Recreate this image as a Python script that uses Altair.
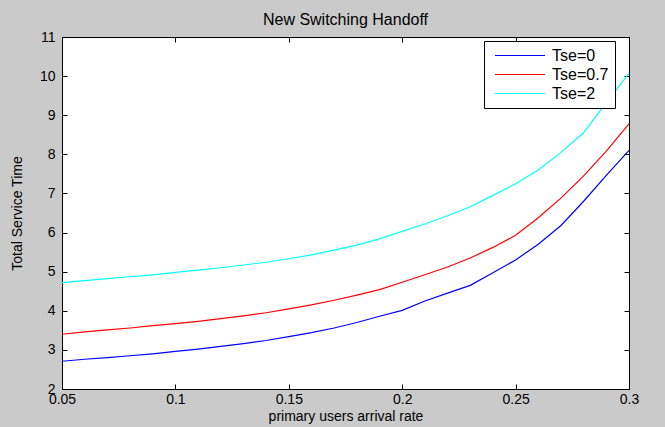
import altair as alt
import pandas as pd

# ---- data ----
arrival_rate = [0.05, 0.06, 0.07, 0.08, 0.09, 0.10, 0.11, 0.12, 0.13, 0.14,
                0.15, 0.16, 0.17, 0.18, 0.19, 0.20, 0.21, 0.22, 0.23, 0.24,
                0.25, 0.26, 0.27, 0.28, 0.29, 0.30]
tse_0 = [2.71, 2.76, 2.80, 2.85, 2.90, 2.96, 3.02, 3.09, 3.16, 3.24,
         3.34, 3.44, 3.56, 3.70, 3.86, 4.01, 4.25, 4.45, 4.65, 4.97,
         5.30, 5.70, 6.18, 6.80, 7.46, 8.10]
tse_07 = [3.40, 3.46, 3.51, 3.56, 3.62, 3.67, 3.73, 3.80, 3.87, 3.95,
          4.05, 4.15, 4.27, 4.40, 4.54, 4.73, 4.92, 5.12, 5.35, 5.62,
          5.93, 6.38, 6.88, 7.45, 8.08, 8.78]
tse_2 = [4.72, 4.77, 4.82, 4.87, 4.92, 4.98, 5.04, 5.10, 5.17, 5.24,
         5.33, 5.43, 5.55, 5.68, 5.84, 6.03, 6.22, 6.43, 6.66, 6.95,
         7.25, 7.60, 8.05, 8.55, 9.32, 10.07]
series_names = ["Tse=0", "Tse=0.7", "Tse=2"]
series_colors = ["#0000ff", "#ff0000", "#00ffff"]
x_ticks = [0.05, 0.1, 0.15, 0.2, 0.25, 0.3]
y_ticks = [2, 3, 4, 5, 6, 7, 8, 9, 10, 11]

rows = []
for name, vals in zip(series_names, [tse_0, tse_07, tse_2]):
    for xv, yv in zip(arrival_rate, vals):
        rows.append({"rate": xv, "time": yv, "series": name})
df = pd.DataFrame(rows)

font = "Liberation Sans"
xscale = alt.Scale(domain=[0.05, 0.3], nice=False, zero=False)
yscale = alt.Scale(domain=[2, 11], nice=False, zero=False)

lines = alt.Chart(df).mark_line(strokeWidth=1.2, clip=True).encode(
    x=alt.X("rate:Q", scale=xscale, axis=alt.Axis(
        orient="bottom", values=x_ticks, format=".2~f",
        title="primary users arrival rate", offset=-5, tickSize=5,
        domain=False, grid=False, labelPadding=3, titlePadding=3,
        labelFontSize=14, titleFontSize=14, labelFont=font, titleFont=font,
        titleFontWeight="normal", labelColor="#000", titleColor="#000",
        tickColor="#000", labelFlush=False, labelOverlap=False)),
    y=alt.Y("time:Q", scale=yscale, axis=alt.Axis(
        orient="left", values=y_ticks, format="d",
        title="Total Service Time", offset=-5, tickSize=5,
        domain=False, grid=False, labelPadding=7, titlePadding=15,
        labelFontSize=14, titleFontSize=14, labelFont=font, titleFont=font,
        titleFontWeight="normal", labelColor="#000", titleColor="#000",
        tickColor="#000", labelOverlap=False)),
    color=alt.Color("series:N",
                    scale=alt.Scale(domain=series_names, range=series_colors),
                    legend=alt.Legend(
                        title=None, orient="none", legendX=422, legendY=4,
                        direction="vertical", symbolType="stroke",
                        symbolSize=2500, symbolStrokeWidth=1.2,
                        labelFontSize=16, labelFont=font, labelColor="#000",
                        strokeColor="#000", fillColor="white", padding=6,
                        rowPadding=2, clipHeight=17, symbolOffset=4,
                        labelOffset=6)),
)

frame_ticks = alt.Chart(df).mark_point(opacity=0).encode(
    x=alt.X("rate:Q", scale=xscale, axis=alt.Axis(
        orient="top", values=x_ticks, labels=False, title=None, offset=-5,
        tickSize=5, domain=False, grid=False, tickColor="#000")),
    y=alt.Y("time:Q", scale=yscale, axis=alt.Axis(
        orient="right", values=y_ticks, labels=False, title=None, offset=-5,
        tickSize=5, domain=False, grid=False, tickColor="#000")),
)

chart = alt.layer(lines, frame_ticks).resolve_axis(
    x="independent", y="independent"
).properties(
    width=567, height=352,
    padding={"left": 62, "top": 37, "right": 36, "bottom": 38},
    autosize=alt.AutoSizeParams(type="none"),
    background="#cacaca",
    title=alt.TitleParams("New Switching Handoff", fontSize=16, font=font,
                          fontWeight="normal", color="#000", anchor="middle",
                          frame="group", offset=2),
).configure_view(fill="white", stroke="black", strokeWidth=1)

chart.save("out.html", embed_options={"renderer": "svg", "actions": False})
